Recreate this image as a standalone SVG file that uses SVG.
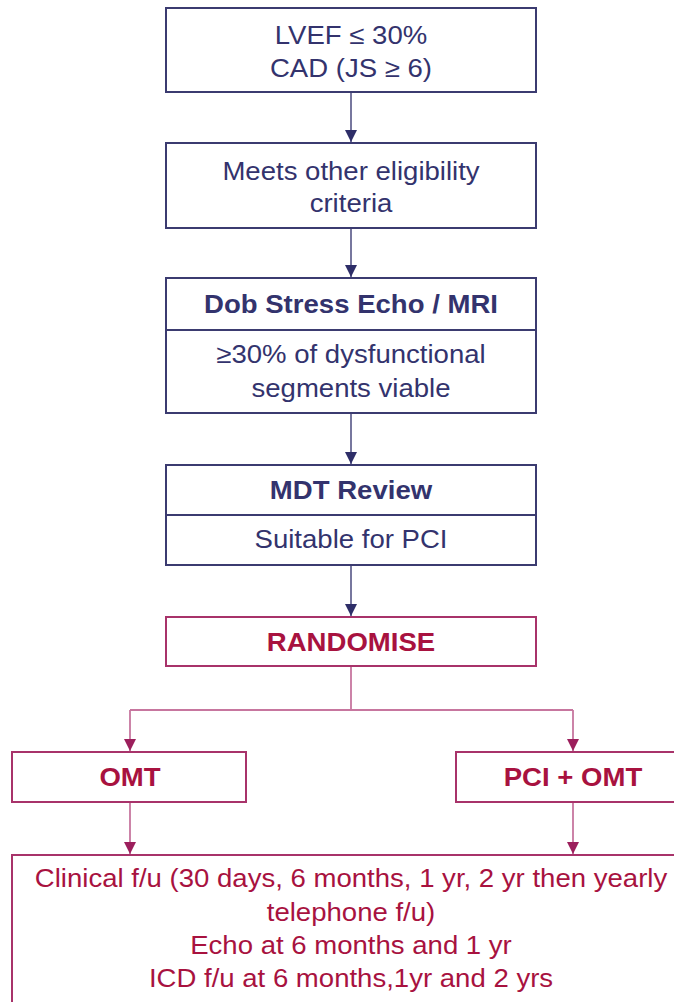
<svg xmlns="http://www.w3.org/2000/svg" width="674" height="1002" viewBox="0 0 674 1002">
<style>
  .bn { fill: #ffffff; stroke: #3b3b70; stroke-width: 2; }
  .br { fill: #ffffff; stroke: #a8336a; stroke-width: 2; }
  .tn { font-family: "Liberation Sans", Arial, sans-serif; font-size: 26px; fill: #33336d; text-anchor: middle; }
  .tr { font-family: "Liberation Sans", Arial, sans-serif; font-size: 26px; fill: #a8123f; text-anchor: middle; }
  .b { font-weight: bold; }
  .cn { stroke: #4a4a7e; stroke-width: 1.5; fill: none; }
  .cr { stroke: #c7769f; stroke-width: 1.8; fill: none; }
</style>
<defs>
  <marker id="an" markerUnits="userSpaceOnUse" markerWidth="14" markerHeight="12" refX="12" refY="6" orient="auto">
    <path d="M0,0 L12,6 L0,12 Z" fill="#2e2e68"/>
  </marker>
  <marker id="ar" markerUnits="userSpaceOnUse" markerWidth="14" markerHeight="12" refX="12" refY="6" orient="auto">
    <path d="M0,0 L12,6 L0,12 Z" fill="#9c1f5c"/>
  </marker>
</defs>

<g id="connectors">
  <line class="cn" x1="351" y1="92" x2="351" y2="142" marker-end="url(#an)"/>
  <line class="cn" x1="351" y1="228" x2="351" y2="277" marker-end="url(#an)"/>
  <line class="cn" x1="351" y1="413" x2="351" y2="464" marker-end="url(#an)"/>
  <line class="cn" x1="351" y1="565" x2="351" y2="616" marker-end="url(#an)"/>
  <path class="cr" d="M351,666 V710 M130,710 H573"/>
  <line class="cr" x1="130" y1="710" x2="130" y2="751" marker-end="url(#ar)"/>
  <line class="cr" x1="573" y1="710" x2="573" y2="751" marker-end="url(#ar)"/>
  <line class="cr" x1="130" y1="802" x2="130" y2="854" marker-end="url(#ar)"/>
  <line class="cr" x1="573" y1="802" x2="573" y2="854" marker-end="url(#ar)"/>
</g>

<g id="node-eligibility-entry">
  <rect class="bn" x="166" y="8" width="370" height="84"/>
  <text class="tn" transform="translate(351,44) scale(1.06,1)">LVEF ≤ 30%</text>
  <text class="tn" transform="translate(351,77) scale(1.06,1)">CAD (JS ≥ 6)</text>
</g>

<g id="node-other-criteria">
  <rect class="bn" x="166" y="143" width="370" height="85"/>
  <text class="tn" transform="translate(351,180) scale(1.06,1)">Meets other eligibility</text>
  <text class="tn" transform="translate(351,212) scale(1.06,1)">criteria</text>
</g>

<g id="node-stress">
  <rect class="bn" x="166" y="278" width="370" height="135"/>
  <line class="bn" x1="166" y1="330" x2="536" y2="330"/>
  <text class="tn b" transform="translate(351,313) scale(1.06,1)">Dob Stress Echo / MRI</text>
  <text class="tn" transform="translate(351,363) scale(1.06,1)">≥30% of dysfunctional</text>
  <text class="tn" transform="translate(351,397) scale(1.06,1)">segments viable</text>
</g>

<g id="node-mdt">
  <rect class="bn" x="166" y="465" width="370" height="100"/>
  <line class="bn" x1="166" y1="515" x2="536" y2="515"/>
  <text class="tn b" transform="translate(351,499) scale(1.06,1)">MDT Review</text>
  <text class="tn" transform="translate(351,548) scale(1.06,1)">Suitable for PCI</text>
</g>

<g id="node-randomise">
  <rect class="br" x="166" y="617" width="370" height="49"/>
  <text class="tr b" transform="translate(351,651) scale(1.06,1)">RANDOMISE</text>
</g>

<g id="node-omt">
  <rect class="br" x="12" y="752" width="234" height="50"/>
  <text class="tr b" transform="translate(130,786) scale(1.06,1)">OMT</text>
</g>

<g id="node-pci-omt">
  <rect class="br" x="456" y="752" width="234" height="50"/>
  <text class="tr b" transform="translate(573,786) scale(1.06,1)">PCI + OMT</text>
</g>

<g id="node-followup">
  <rect class="br" x="12" y="855" width="680" height="200"/>
  <text class="tr" transform="translate(351,887) scale(1.06,1)">Clinical f/u (30 days, 6 months, 1 yr, 2 yr then yearly</text>
  <text class="tr" transform="translate(351,921) scale(1.06,1)">telephone f/u)</text>
  <text class="tr" transform="translate(351,954) scale(1.06,1)">Echo at 6 months and 1 yr</text>
  <text class="tr" transform="translate(351,987) scale(1.06,1)">ICD f/u at 6 months,1yr and 2 yrs</text>
</g>
</svg>
